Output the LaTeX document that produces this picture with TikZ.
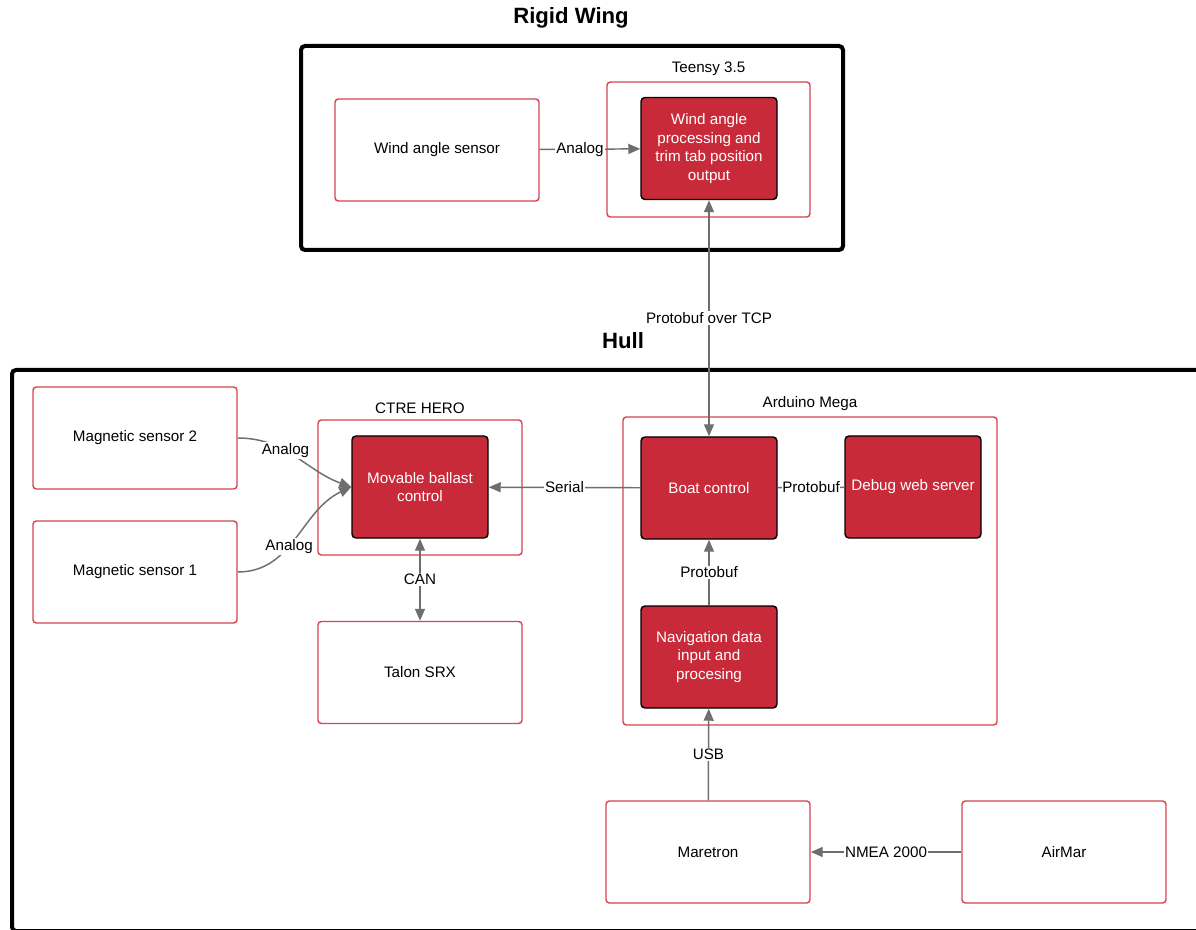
\documentclass[tikz,border=0pt]{standalone}
\usepackage{fontspec}
\setmainfont{Liberation Sans}
\usetikzlibrary{arrows.meta}
\definecolor{boxred}{HTML}{C92A39}
\definecolor{edgered}{HTML}{D6434F}
\definecolor{linegray}{HTML}{6E6E6E}

\begin{document}
\begin{tikzpicture}[x=0.75pt, y=-0.75pt,
    >={Triangle[length=9pt, width=7.5pt]},
    every node/.style={font=\fontsize{11.4}{13.8}\selectfont},
    device/.style={draw=edgered, line width=1.1pt, rounded corners=2.5pt,
      minimum width=153pt, minimum height=76.5pt, inner sep=0pt},
    task/.style={draw=black, fill=boxred, text=white, line width=1.1pt,
      rounded corners=3pt, minimum width=102pt, minimum height=76.5pt,
      align=center, inner sep=0pt},
    board/.style={draw=edgered, line width=1.1pt, rounded corners=2.5pt,
      inner sep=0pt, label={[label distance=1pt]above:#1}},
    zone/.style={draw=black, line width=3pt, rounded corners=3pt},
    title/.style={font=\fontsize{16.6}{20}\selectfont\bfseries},
    wire/.style={draw=linegray, line width=1.1pt},
    tag/.style={fill=white, inner sep=1pt}]
  \useasboundingbox (0,0) rectangle (1196,930);

  % rigid wing
  \node[title] (wingtitle) at (571,18) {Rigid Wing};
  \node[zone, minimum width=406.5pt, minimum height=153pt] (wing) at (572,148) {};
  \node[device] (wsens) at (437,150) {Wind angle sensor};
  \node[board=Teensy 3.5, minimum width=152.25pt, minimum height=101.25pt] (teensy) at (708.5,149.5) {};
  \node[task] (wproc) at (709,148.5) {Wind angle\\processing and\\trim tab position\\output};

  % hull
  \node[title] (hulltitle) at (623,341) {Hull};
  \draw[zone] (12,370) rectangle (1215,931);
  \node[device] (mag2) at (135,438) {Magnetic sensor 2};
  \node[device] (mag1) at (135,572) {Magnetic sensor 1};
  \node[board=CTRE HERO, minimum width=153pt, minimum height=101.25pt] (hero) at (420,487.5) {};
  \node[task] (ballast) at (420,487) {Movable ballast\\control};
  \node[device] (talon) at (420,672.5) {Talon SRX};
  \node[board=Arduino Mega, minimum width=280.5pt, minimum height=231pt] (mega) at (810,571) {};
  \node[task] (boat) at (709,488) {Boat control};
  \node[task] (debug) at (913,487) {Debug web server};
  \node[task] (nav) at (709,657) {Navigation data\\input and\\procesing};
  \node[device] (maretron) at (708,852) {Maretron};
  \node[device] (airmar) at (1064,852) {AirMar};

  % links
  \draw[wire,->] (wsens) -- node[tag, pos=0.4] {Analog} (wproc);
  \draw[wire,<->] (wproc) -- node[tag] {Protobuf over TCP} (boat);
  \draw[wire,->] (mag2.east) to[out=0, in=160] node[tag, pos=0.4] {Analog} (ballast.west);
  \draw[wire,->] (mag1.east) to[out=0, in=205] node[tag, pos=0.42] {Analog} (ballast.west);
  \draw[wire,->] (boat) -- node[tag] {Serial} (ballast);
  \draw[wire,<->] (ballast) -- node[tag] {CAN} (talon);
  \draw[wire] (boat) -- node[tag, inner sep=0pt] {Protobuf} (debug);
  \draw[wire,->] (nav) -- node[tag] {Protobuf} (boat);
  \draw[wire,->] (maretron) -- node[tag] {USB} (nav);
  \draw[wire,->] (airmar) -- node[tag] {NMEA 2000} (maretron);
\end{tikzpicture}
\end{document}
